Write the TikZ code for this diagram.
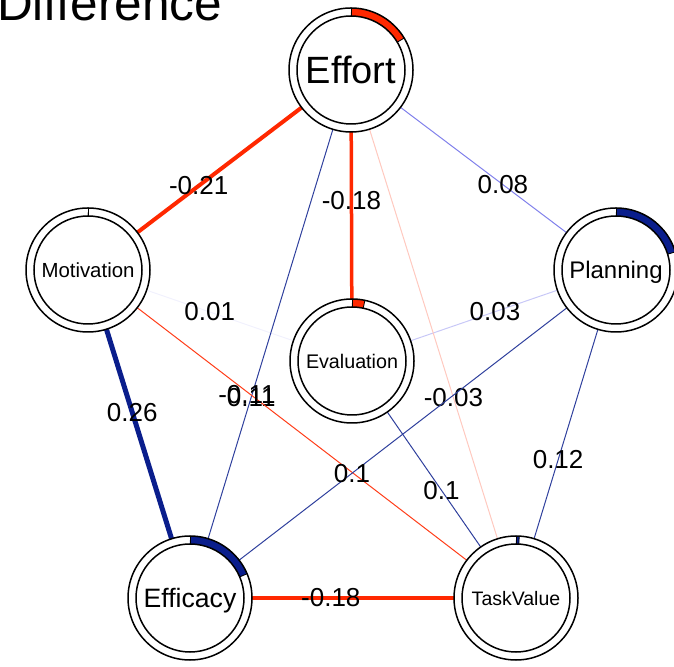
\documentclass[tikz,border=0pt]{standalone}
\usepackage{fontspec}
\setmainfont{Liberation Sans}
\usepackage{tikz}
\usetikzlibrary{positioning}

\definecolor{negred}{RGB}{255,40,0}
\definecolor{posblue}{RGB}{10,30,140}
\definecolor{weakblue}{RGB}{60,60,225}

\begin{document}
\begin{tikzpicture}[x=1pt, y=1pt,
                        var/.style={circle, minimum size=124pt, inner sep=0pt, text depth=0pt, font=\fontsize{#1}{#1}\selectfont},
                        wt/.style={inner sep=0pt, text=black, font=\fontsize{26}{26}\selectfont},
                        edge/.style={draw=#1, line width=1pt}]
            \useasboundingbox (0,0) rectangle (674,666);

            \node[anchor=base west, inner sep=0pt, font=\fontsize{49.5}{49.5}\selectfont] (title) at (-3,645) {Difference};

            % variables
            \node[var=38] (Effort) at (351,596) {Effort};
            \node[var=20.4] (Motivation) at (88,396) {Motivation};
            \node[var=24] (Planning) at (616,396) {Planning};
            \node[var=19.7] (Evaluation) at (352,305) {Evaluation};
            \node[var=26.6] (Efficacy) at (190,68) {Efficacy};
            \node[var=19.5] (TaskValue) at (516,68) {TaskValue};

            % weights
            \draw[edge=weakblue!7] (Motivation) -- node[wt, pos=0.43] {0.01} (Evaluation);
            \draw[edge=weakblue!28] (Planning) -- node[wt, pos=0.425] {0.03} (Evaluation);
            \draw[edge=negred!25] (Effort) -- node[wt, pos=0.656] {-0.03} (TaskValue);
            \draw[edge=weakblue!65] (Effort) -- node[wt, pos=0.617] {0.08} (Planning);
            \draw[edge=posblue!85] (Effort) -- node[wt, pos=0.655] {0.11} (Efficacy);
            \draw[edge=negred!90] (TaskValue) -- node[wt, pos=0.655, xshift=-4pt] {-0.11} (Motivation);
            \draw[edge=posblue!85] (Planning) -- node[wt, pos=0.656] {0.1} (Efficacy);
            \draw[edge=posblue!85] (Planning) -- node[wt, pos=0.624] {0.12} (TaskValue);
            \draw[edge=posblue!85] (Evaluation) -- node[wt, pos=0.58] {0.1} (TaskValue);
            \draw[edge=negred, line width=4pt] (Effort) -- node[wt, pos=0.627] {-0.21} (Motivation);
            \draw[edge=negred, line width=3.5pt] (Effort) -- node[wt, pos=0.41] {-0.18} (Evaluation);
            \draw[edge=negred, line width=3.5pt] (Efficacy) -- node[wt, pos=0.39] {-0.18} (TaskValue);
            \draw[edge=posblue, line width=5pt] (Motivation) -- node[wt, pos=0.397] {0.26} (Efficacy);

            % pies
            \foreach \n/\a/\c in {Effort/31/negred, Evaluation/78/negred, Planning/17/posblue,
                                  Efficacy/23/posblue, TaskValue/87/posblue, Motivation/89.6/black} {
                \draw[\c, line width=8pt] (\n.center) ++(90:58pt) arc[start angle=90, end angle=\a, radius=58pt];
                \draw[line width=0.8pt] (\n.center) ++(90:54pt) -- ++(90:8pt);
                \draw[line width=0.8pt] (\n.center) ++(\a:54pt) -- ++(\a:8pt);
            }
            \foreach \n in {Effort, Motivation, Planning, Evaluation, Efficacy, TaskValue}
                \draw[line width=1.5pt] (\n.center) circle[radius=62pt] (\n.center) circle[radius=54pt];
        \end{tikzpicture}
\end{document}
